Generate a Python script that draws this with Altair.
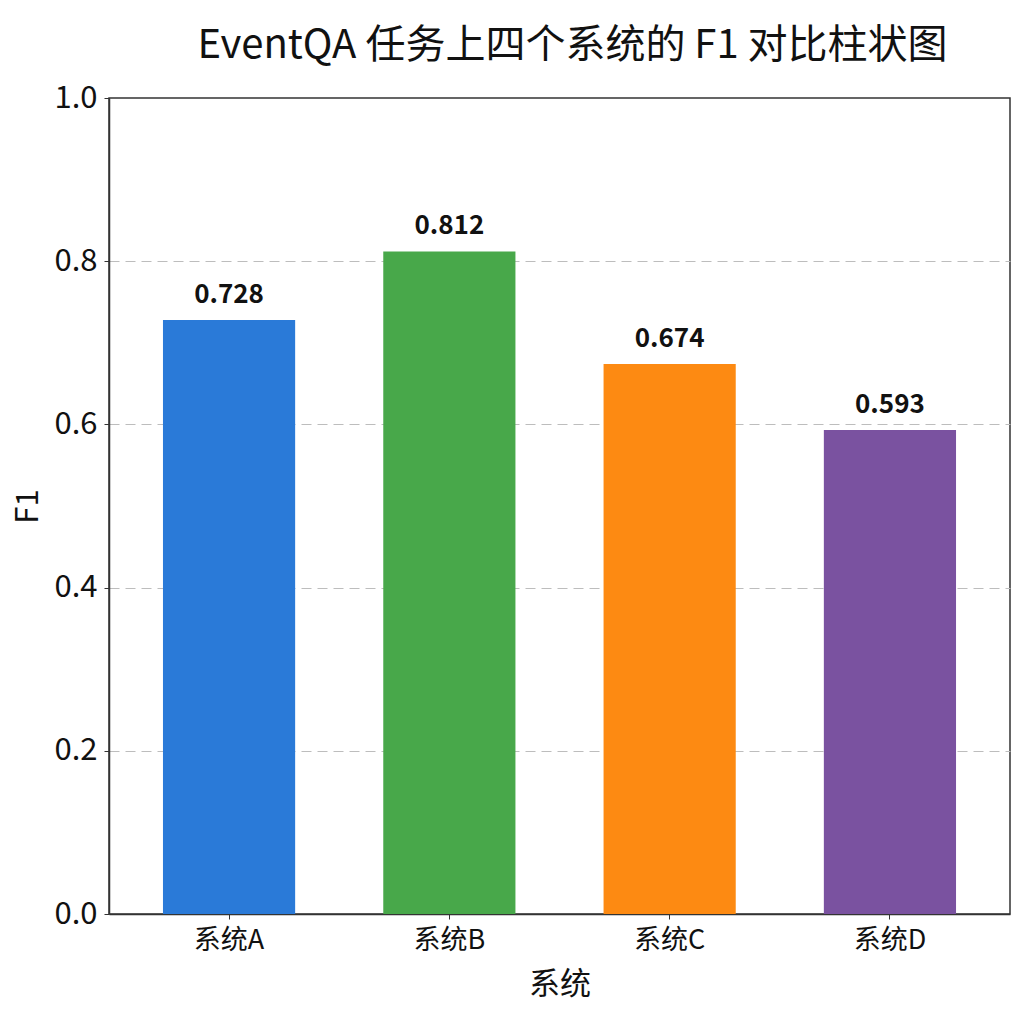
import altair as alt
import pandas as pd

# F1 scores of the four systems on EventQA
systems = ["系统A", "系统B", "系统C", "系统D"]
f1_scores = [0.728, 0.812, 0.674, 0.593]
bar_colors = ["#2a7ad8", "#48a84a", "#fd8a12", "#7a52a0"]

df = pd.DataFrame({"system": systems, "f1": f1_scores})
df["label"] = [f"{v:.3f}" for v in f1_scores]

FONT = "Noto Sans CJK SC"

x_enc = alt.X(
    "system:N",
    sort=systems,
    title="系统",
    scale=alt.Scale(paddingInner=0.4, paddingOuter=0.245),
    axis=alt.Axis(
        labelAngle=0,
        labelFontSize=27,
        labelPadding=8,
        tickSize=5,
        titleFontSize=31,
        titlePadding=16,
        grid=False,
    ),
)
y_enc = alt.Y(
    "f1:Q",
    title="F1",
    scale=alt.Scale(domain=[0, 1.0], nice=False),
    axis=alt.Axis(
        values=[0, 0.2, 0.4, 0.6, 0.8, 1.0],
        format=".1f",
        labelFontSize=31,
        labelPadding=7,
        tickSize=5,
        titleFontSize=31,
        titlePadding=9,
        grid=True,
        gridDash=[10, 6],
        gridColor="#bdbdbd",
        gridWidth=1.2,
        gridOpacity=alt.condition("datum.value >= 1", alt.value(0), alt.value(1)),
    ),
)

bars = alt.Chart(df).mark_bar().encode(
    x=x_enc,
    y=y_enc,
    color=alt.Color("system:N", scale=alt.Scale(domain=systems, range=bar_colors), legend=None),
)

labels = alt.Chart(df).mark_text(
    font=FONT, fontSize=26, fontWeight="bold", color="#111111", baseline="alphabetic", dy=-17
).encode(
    x=alt.X("system:N", sort=systems),
    y=alt.Y("f1:Q"),
    text="label:N",
)

chart = (
    alt.layer(bars, labels)
    .properties(
        width=901,
        height=816,
        autosize=alt.AutoSizeParams(type="none"),
        padding={"left": 109, "top": 98, "right": 14, "bottom": 110},
        title=alt.TitleParams(
            "EventQA 任务上四个系统的 F1 对比柱状图",
            fontSize=40,
            font=FONT,
            fontWeight="normal",
            color="#111111",
            anchor="middle",
            dx=13,
            offset=16,
        ),
        background="white",
    )
    .configure_view(stroke="#333333", strokeWidth=1.5)
    .configure_axis(
        labelFont=FONT,
        titleFont=FONT,
        labelColor="#111111",
        titleColor="#111111",
        labelFontWeight="normal",
        titleFontWeight="normal",
        domainColor="#333333",
        domainWidth=1.5,
        tickColor="#333333",
    )
)

chart.save("out.html", embed_options={"renderer": "svg", "actions": False})
